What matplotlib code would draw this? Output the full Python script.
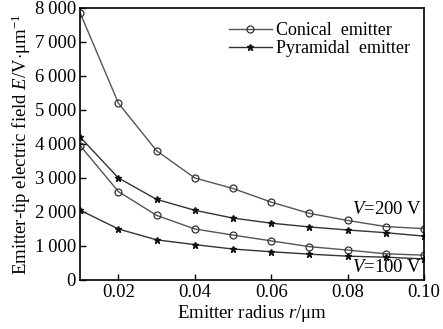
import numpy as np
import matplotlib
matplotlib.use('Agg')
import matplotlib.pyplot as plt

plt.rcParams['font.family'] = ['Liberation Serif', 'DejaVu Serif']
plt.rcParams['mathtext.fontset'] = 'custom'
plt.rcParams['mathtext.rm'] = 'Liberation Serif'
plt.rcParams['mathtext.it'] = 'Liberation Serif:italic'

# data
radius = [0.01, 0.02, 0.03, 0.04, 0.05, 0.06, 0.07, 0.08, 0.09, 0.10]
conical_200 = [7850, 5200, 3800, 3000, 2690, 2290, 1960, 1750, 1570, 1510]
pyramidal_200 = [4200, 3000, 2370, 2050, 1820, 1670, 1560, 1470, 1390, 1290]
conical_100 = [3950, 2600, 1900, 1500, 1320, 1150, 980, 880, 770, 730]
pyramidal_100 = [2050, 1500, 1180, 1040, 910, 830, 760, 700, 670, 620]

yticks = [0, 1000, 2000, 3000, 4000, 5000, 6000, 7000, 8000]
ytick_labels = ['0', '1\u2009000', '2\u2009000', '3\u2009000', '4\u2009000',
                '5\u2009000', '6\u2009000', '7\u2009000', '8\u2009000']
xticks = [0.02, 0.04, 0.06, 0.08, 0.10]
xtick_labels = ['0.02', '0.04', '0.06', '0.08', '0.10']

fig = plt.figure(figsize=(4.43, 3.29), dpi=100)
ax = fig.add_axes([0.181, 0.149, 0.776, 0.827])

line_col = '#555555'
ckw = dict(color=line_col, lw=1.0, marker='o', ms=5, mfc='none', mec='#333333', mew=0.9)
pkw = dict(color='#333333', lw=1.0, marker='*', ms=5, mfc='#111111', mec='#111111')

ax.plot(radius, conical_200, label='Conical  emitter', **ckw)
ax.plot(radius, pyramidal_200, label='Pyramidal  emitter', **pkw)
ax.plot(radius, conical_100, **ckw)
ax.plot(radius, pyramidal_100, **pkw)

ax.set_xlim(0.01, 0.10)
ax.set_ylim(0, 8000)
ax.set_xticks(xticks)
ax.set_xticklabels(xtick_labels)
ax.set_yticks(yticks)
ax.set_yticklabels(ytick_labels)
ax.tick_params(direction='in', labelsize=13.5, length=4, width=1, pad=3)
for s in ax.spines.values():
    s.set_linewidth(1.2)

ax.set_xlabel(r'Emitter radius $r$/μm', fontsize=13.5, labelpad=1)
ax.set_ylabel(r'Emitter-tip electric field $E$/V$\cdot$μm$^{-1}$', fontsize=13.5, labelpad=1)

ax.text(0.0995, 1820, r'$V$=200 V', ha='right', va='bottom', fontsize=13.5)
ax.text(0.0995, 130, r'$V$=100 V', ha='right', va='bottom', fontsize=13.5)

ax.legend(loc='upper right', frameon=False, fontsize=13, handlelength=2.4,
          handletextpad=0.2, labelspacing=0.05, borderaxespad=0.4)

fig.savefig('out.png', dpi=100)
